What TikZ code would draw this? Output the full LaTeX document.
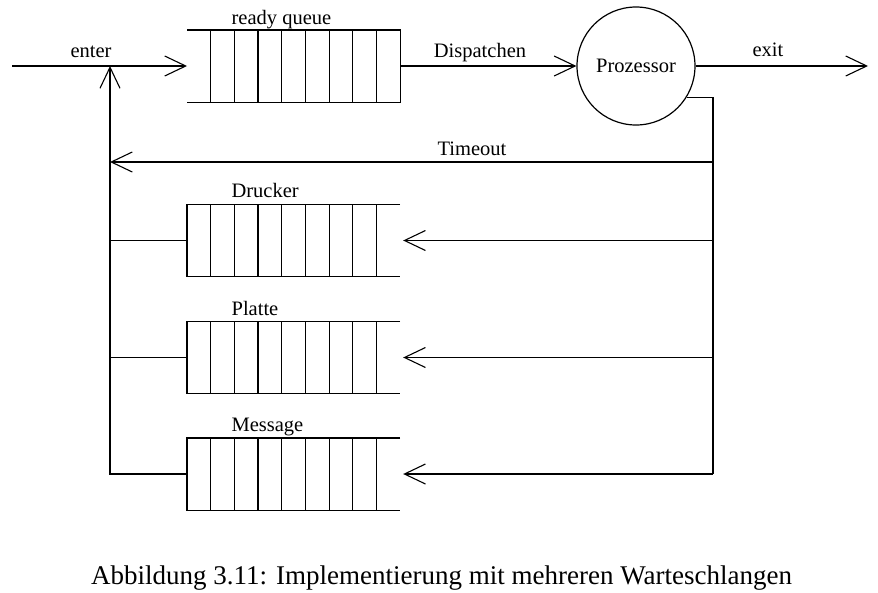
\documentclass[tikz,border=0pt]{standalone}
\usepackage{fontspec}
\setmainfont{Liberation Serif}
\usetikzlibrary{arrows.meta,calc}
\begin{document}
\begin{tikzpicture}[x=1pt,y=-1pt,
  line width=1.2pt,
  tip/.style={-{Straight Barb[length=21pt,width=20pt,line width=1.1pt]}},
  queue/.style={rectangle,minimum width=212pt,minimum height=71pt,inner sep=0pt,anchor=west},
  lbl/.style={font=\fontsize{20.5}{24}\selectfont,inner sep=0pt},
  proc/.style={circle,draw,minimum size=118pt,inner sep=0pt,font=\fontsize{20.5}{24}\selectfont}]
\useasboundingbox (0,0) rectangle (878,592);
% nodes
\node[queue] (rq) at (187,66) {};
\node[queue] (dq) at (187,240.5) {};
\node[queue] (pq) at (187,357.5) {};
\node[queue] (mq) at (187,474) {};
\node[proc] (P) at (636,66) {Prozessor};
\coordinate (start) at (12,66);
\coordinate (end) at (868,66);
\coordinate (J) at (110,66);
\coordinate (R) at (713,0);
\coordinate (T) at (713,162);
% queue outlines
\draw (rq.north west) -- (rq.north east) -- (rq.south east) -- (rq.south west);
\foreach \q in {dq,pq,mq}
  \draw (\q.north east) -- (\q.north west) -- (\q.south west) -- (\q.south east);
\foreach \q in {rq,dq,pq,mq}
  \foreach \k in {1,...,8}
    \draw ($(\q.north west)!\k/9!(\q.north east)$) -- ($(\q.south west)!\k/9!(\q.south east)$);
% labels
\node[lbl,anchor=base] (lenter) at (91,57) {enter};
\node[lbl,anchor=base] (ldisp) at (480,57) {Dispatchen};
\node[lbl,anchor=base] (lexit) at (768,56) {exit};
\node[lbl,anchor=base] (ltime) at (472,155) {Timeout};
\node[lbl,anchor=base west] (lrq) at (231,24) {ready queue};
\node[lbl,anchor=base west] (ldq) at (231,197) {Drucker};
\node[lbl,anchor=base west] (lpq) at (231,315) {Platte};
\node[lbl,anchor=base west] (lmq) at (231,431) {Message};
\node[anchor=base,inner sep=0pt,font=\fontsize{27}{32}\selectfont] (cap) at (441.5,584)
  {Abbildung 3.11: Implementierung mit mehreren Warteschlangen};
% connectors
\draw[tip] (start) -- (rq.west);
\draw[tip] (rq.east) -- (P.west);
\draw[tip] (P.east) -- (end);
\draw (P.-32) -| (R |- mq.east);
\draw[tip] (T) -- (T -| J);
\foreach \q in {dq,pq,mq}
  \draw[tip] (R |- \q.east) -- ($(\q.east)+(3,0)$);
\draw[tip] (mq.west) -| (J);
\draw (dq.west) -- (dq.west -| J);
\draw (pq.west) -- (pq.west -| J);
\end{tikzpicture}
\end{document}
